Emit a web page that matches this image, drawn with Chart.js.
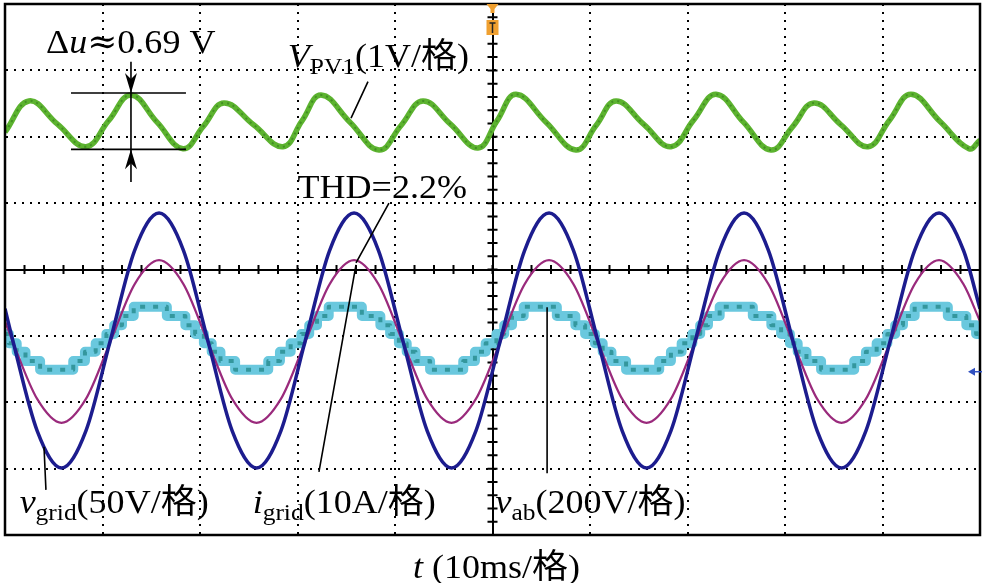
<!DOCTYPE html>
<html><head><meta charset="utf-8">
<script src="https://cdn.jsdelivr.net/npm/chart.js@4/dist/chart.umd.min.js"></script>
<style>html,body{margin:0;padding:0;background:#fff}#wrap{width:983px;height:583px}</style>
</head><body><div id="wrap"><canvas id="c" width="983" height="583"></canvas></div>
<script>
// ---- Data (time in ms, amplitude in oscilloscope divisions) ----
const gridTime = [0, 0.8, 3.3, 5.8, 8.3, 10.8, 13.3, 15.8, 18.3, 20.8, 23.3, 25.8, 28.3, 30.8, 33.3, 35.8, 38.3, 40.8, 43.3, 45.8, 48.3, 50.8, 53.3, 55.8, 58.3, 60.8, 63.3, 65.8, 68.3, 70.8, 73.3, 75.8, 78.3, 80.8, 83.3, 85.8, 88.3, 90.8, 93.3, 95.8, 98.3, 100];
const vGrid = [-0.59,
  -1.07, -2.43, -2.99, -2.43, -1.07, 0.29, 0.85, 0.29,
  -1.07, -2.43, -2.99, -2.43, -1.07, 0.29, 0.85, 0.29,
  -1.07, -2.43, -2.99, -2.43, -1.07, 0.29, 0.85, 0.29,
  -1.07, -2.43, -2.99, -2.43, -1.07, 0.29, 0.85, 0.29,
  -1.07, -2.43, -2.99, -2.43, -1.07, 0.29, 0.85, 0.29,
  -0.59];
const iGrid = [-0.78,
  -1.09, -1.95, -2.31, -1.95, -1.09, -0.22, 0.14, -0.22,
  -1.09, -1.95, -2.31, -1.95, -1.09, -0.22, 0.14, -0.22,
  -1.09, -1.95, -2.31, -1.95, -1.09, -0.22, 0.14, -0.22,
  -1.09, -1.95, -2.31, -1.95, -1.09, -0.22, 0.14, -0.22,
  -1.09, -1.95, -2.31, -1.95, -1.09, -0.22, 0.14, -0.22,
  -0.78];
const pvTime = [0, 2.46, 5.38, 8.31, 10.62, 12.92, 15.59, 18.26, 20.36, 22.46, 25.49, 28.51, 30.46, 32.41, 35.38, 38.36, 40.62, 42.87, 45.69, 48.51, 50.46, 52.41, 55.49, 58.56, 60.62, 62.67, 65.49, 68.31, 70.62, 72.92, 75.74, 78.56, 80.77, 82.97, 85.74, 88.51, 90.72, 92.92, 95.90, 98.87, 100];
const vPV1 = [2.07, 2.54, 2.19, 1.85, 2.24, 2.63, 2.22, 1.82, 2.16, 2.51, 2.18, 1.85, 2.24, 2.63, 2.22, 1.80, 2.17, 2.54, 2.19, 1.83, 2.24, 2.64, 2.22, 1.80, 2.17, 2.54, 2.19, 1.85, 2.25, 2.64, 2.22, 1.80, 2.15, 2.51, 2.18, 1.85, 2.25, 2.64, 2.23, 1.82, 1.95];
const vabTime = [0,
  0.4, 1.2, 2.1, 3.6, 7.0, 8.2, 9.3, 10.4, 11.2, 12.0, 13.2, 16.6, 18.5, 19.5,
  20.4, 21.2, 22.1, 23.6, 27.0, 28.2, 29.3, 30.4, 31.2, 32.0, 33.2, 36.6, 38.5, 39.5,
  40.4, 41.2, 42.1, 43.6, 47.0, 48.2, 49.3, 50.4, 51.2, 52.0, 53.2, 56.6, 58.5, 59.5,
  60.5, 61.3, 62.2, 63.7, 67.1, 68.3, 69.4, 70.5, 71.3, 72.1, 73.3, 76.7, 78.6, 79.6,
  80.5, 81.3, 82.2, 83.7, 87.1, 88.3, 89.4, 90.5, 91.3, 92.1, 93.3, 96.7, 98.6, 99.6,
  100];
const vAb = [-0.97,
  -1.11, -1.24, -1.38, -1.51, -1.38, -1.24, -1.11, -0.97, -0.84, -0.70, -0.56, -0.70, -0.84, -0.97,
  -1.11, -1.24, -1.38, -1.51, -1.38, -1.24, -1.11, -0.97, -0.84, -0.70, -0.56, -0.70, -0.84, -0.97,
  -1.11, -1.24, -1.38, -1.51, -1.38, -1.24, -1.11, -0.97, -0.84, -0.70, -0.56, -0.70, -0.84, -0.97,
  -1.11, -1.24, -1.38, -1.51, -1.38, -1.24, -1.11, -0.97, -0.84, -0.70, -0.56, -0.70, -0.84, -0.97,
  -1.11, -1.24, -1.38, -1.51, -1.38, -1.24, -1.11, -0.97, -0.84, -0.70, -0.56, -0.70, -0.84, -0.97,
  -0.97];
const xRange = [0, 100];   // 10 ms / div
const yRange = [-4, 4];    // 8 divisions
const xTitle = [{t: 't', it: true}, {t: ' (10ms/格)'}];
const labelDu = [{t: 'Δ'}, {t: 'u', it: true}, {t: '≈', alt: true}, {t: '0.69 V'}];
const labelPV = [{t: 'V', it: true}, {t: 'PV1', sub: true}, {t: '(1V/格)'}];
const labelTHD = [{t: 'THD=2.2%'}];
const labelVg = [{t: 'v', it: true}, {t: 'grid', sub: true}, {t: '(50V/格)'}];
const labelIg = [{t: 'i', it: true}, {t: 'grid', sub: true}, {t: '(10A/格)'}];
const labelVab = [{t: 'v', it: true}, {t: 'ab', sub: true}, {t: '(200V/格)'}];

const pts = (xs, ys) => xs.map((x, i) => ({x, y: ys[i]}));
const SERIF = '"Liberation Serif","Times New Roman","Noto Sans CJK SC",serif';
const FS = 34;
const STRETCH = 1.06;

function partFont(p, size) {
  if (p.alt) return size + 'px "DejaVu Serif",serif';
  const fs = p.sub ? Math.round(size * 0.72) : size;
  return (p.it ? 'italic ' : '') + fs + 'px ' + SERIF;
}
function richWidth(ctx, parts, size) {
  let w = 0;
  for (const p of parts) { ctx.font = partFont(p, size); w += ctx.measureText(p.t).width; }
  return w * STRETCH;
}
function rich(ctx, x, y, parts, size) {
  ctx.save();
  ctx.translate(x, y);
  ctx.scale(STRETCH, 1);
  ctx.textBaseline = 'alphabetic';
  ctx.textAlign = 'left';
  let cx = 0;
  for (const p of parts) {
    ctx.font = partFont(p, size);
    ctx.fillText(p.t, cx, p.sub ? size * 0.2 : 0);
    cx += ctx.measureText(p.t).width;
  }
  ctx.restore();
}
function arrowHead(ctx, x, y, dir) { // dir: 1 = pointing down, -1 = pointing up
  const L = 20, W = 6, N = 6;
  ctx.beginPath();
  ctx.moveTo(x, y);
  ctx.lineTo(x - W, y - dir * L);
  ctx.lineTo(x, y - dir * (L - N));
  ctx.lineTo(x + W, y - dir * L);
  ctx.closePath();
  ctx.fill();
}

const scopeDecor = {
  id: 'scopeDecor',
  beforeDatasetsDraw(chart) {
    const {ctx, scales: {x, y}} = chart;
    const cx = x.getPixelForValue(50), cy = y.getPixelForValue(0);
    ctx.save();
    ctx.strokeStyle = '#000';
    ctx.lineWidth = 2;
    ctx.beginPath();
    for (let t = 0; t <= 100; t += 2) {
      const px = x.getPixelForValue(t);
      ctx.moveTo(px, cy - 4.5); ctx.lineTo(px, cy + 4.5);
    }
    for (let v = -4; v <= 4.001; v += 0.2) {
      const py = y.getPixelForValue(v);
      ctx.moveTo(cx - 5, py); ctx.lineTo(cx + 5, py);
    }
    ctx.stroke();
    ctx.restore();
  },
  afterDraw(chart) {
    const {ctx, chartArea: a, scales: {x, y}} = chart;
    const X = v => x.getPixelForValue(v), Y = v => y.getPixelForValue(v);
    ctx.save();
    // frame
    ctx.strokeStyle = '#000';
    ctx.lineWidth = 2.5;
    ctx.strokeRect(a.left, a.top, a.right - a.left, a.bottom - a.top);

    // trigger marker (orange) at top centre
    const cx = X(50);
    ctx.fillStyle = '#f0a030';
    ctx.beginPath();
    ctx.moveTo(cx - 6, a.top); ctx.lineTo(cx + 6, a.top); ctx.lineTo(cx + 2, a.top + 5); ctx.lineTo(cx + 2, a.top + 9);
    ctx.lineTo(cx - 2, a.top + 9); ctx.lineTo(cx - 2, a.top + 5); ctx.closePath(); ctx.fill();
    ctx.fillRect(cx - 6, a.top + 16, 12, 15);
    ctx.strokeStyle = '#222'; ctx.lineWidth = 1.5;
    ctx.beginPath(); ctx.moveTo(cx - 3, a.top + 19); ctx.lineTo(cx + 3, a.top + 19);
    ctx.moveTo(cx, a.top + 19); ctx.lineTo(cx, a.top + 29); ctx.stroke();
    // reference marker at right
    const ry = Y(-1.54);
    ctx.fillStyle = '#3050c0';
    ctx.beginPath(); ctx.moveTo(a.right - 12, ry); ctx.lineTo(a.right - 5, ry - 4); ctx.lineTo(a.right - 5, ry + 4); ctx.closePath(); ctx.fill();
    ctx.strokeStyle = '#3050c0'; ctx.lineWidth = 1.5;
    ctx.beginPath(); ctx.moveTo(a.right - 6, ry); ctx.lineTo(a.right + 2, ry); ctx.stroke();

    // Δu measurement
    ctx.strokeStyle = '#000'; ctx.fillStyle = '#000'; ctx.lineWidth = 1.6;
    ctx.beginPath();
    ctx.moveTo(X(6.77), Y(2.66)); ctx.lineTo(X(18.56), Y(2.66));
    ctx.moveTo(X(6.77), Y(1.81)); ctx.lineTo(X(18.56), Y(1.81));
    ctx.moveTo(X(12.92), Y(3.13)); ctx.lineTo(X(12.92), Y(1.32));
    // leader lines
    ctx.moveTo(X(37.23), Y(2.83)); ctx.lineTo(X(35.49), Y(2.28));
    ctx.moveTo(X(39.38), Y(1.0)); ctx.lineTo(X(36.0), Y(0.10));
    ctx.moveTo(X(32.2), Y(-3.05)); ctx.lineTo(X(36.0), Y(0.07));
    ctx.moveTo(X(4.0), Y(-2.67)); ctx.lineTo(X(4.2), Y(-3.32));
    ctx.moveTo(X(55.6), Y(-0.57)); ctx.lineTo(X(55.6), Y(-3.07));
    ctx.stroke();
    arrowHead(ctx, X(12.92), Y(2.66), 1);
    arrowHead(ctx, X(12.92), Y(1.81), -1);

    // labels
    ctx.fillStyle = '#000';
    rich(ctx, X(4.2), Y(3.26), labelDu, FS);
    rich(ctx, X(29.0), Y(3.05), labelPV, FS);
    rich(ctx, X(30.0), Y(1.08), labelTHD, FS);
    rich(ctx, X(1.5), Y(-3.67), labelVg, FS);
    rich(ctx, X(25.4), Y(-3.67), labelIg, FS);
    rich(ctx, X(50.3), Y(-3.67), labelVab, FS);
    // x-axis title
    const w = richWidth(ctx, xTitle, FS);
    rich(ctx, (a.left + a.right) / 2 + 4 - w / 2, a.bottom + 43, xTitle, FS);
    ctx.restore();
  }
};

const dotted = [2, 6];
new Chart(document.getElementById('c'), {
  type: 'line',
  data: {
    datasets: [
      {label: 'vgrid', data: pts(gridTime, vGrid), borderColor: '#1c1c8e', borderWidth: 3.5, cubicInterpolationMode: 'monotone', order: 0},
      {label: 'igrid', data: pts(gridTime, iGrid), borderColor: '#9a2a7c', borderWidth: 2.2, cubicInterpolationMode: 'monotone', order: 1},
      {label: 'vab-core', data: pts(vabTime, vAb), borderColor: 'rgba(30,130,130,0.7)', borderWidth: 4, stepped: true, borderDash: [5, 8], order: 2},
      {label: 'vab', data: pts(vabTime, vAb), borderColor: '#6ac8de', borderWidth: 10, stepped: true, order: 3},
      {label: 'VPV1-texture', data: pts(pvTime, vPV1), borderColor: 'rgba(45,115,25,0.55)', borderWidth: 2, tension: 0.42, borderDash: [2, 4], order: 4},
      {label: 'VPV1', data: pts(pvTime, vPV1), borderColor: '#5cb32f', borderWidth: 5.5, tension: 0.42, order: 5}
    ]
  },
  options: {
    responsive: false,
    animation: false,
    devicePixelRatio: 1,
    layout: {padding: {left: 5, right: 3, top: 4, bottom: 48}},
    elements: {point: {radius: 0}, line: {borderJoinStyle: 'round', borderCapStyle: 'butt'}},
    plugins: {legend: {display: false}, tooltip: {enabled: false}},
    scales: {
      x: {
        type: 'linear', min: xRange[0], max: xRange[1],
        ticks: {display: false, stepSize: 10},
        grid: {drawTicks: false, lineWidth: 2,
          color: c => (c.tick && (c.tick.value === xRange[0] || c.tick.value === xRange[1])) ? 'rgba(0,0,0,0)' : '#000'},
        border: {display: true, color: '#000', width: 2,
          dash: c => (c.tick && c.tick.value === 50) ? [] : dotted}
      },
      y: {
        type: 'linear', min: yRange[0], max: yRange[1],
        ticks: {display: false, stepSize: 1},
        grid: {drawTicks: false, lineWidth: 2,
          color: c => (c.tick && (c.tick.value === yRange[0] || c.tick.value === yRange[1])) ? 'rgba(0,0,0,0)' : '#000'},
        border: {display: true, color: '#000', width: 2,
          dash: c => (c.tick && c.tick.value === 0) ? [] : dotted}
      }
    }
  },
  plugins: [scopeDecor]
});
</script>
</body></html>
